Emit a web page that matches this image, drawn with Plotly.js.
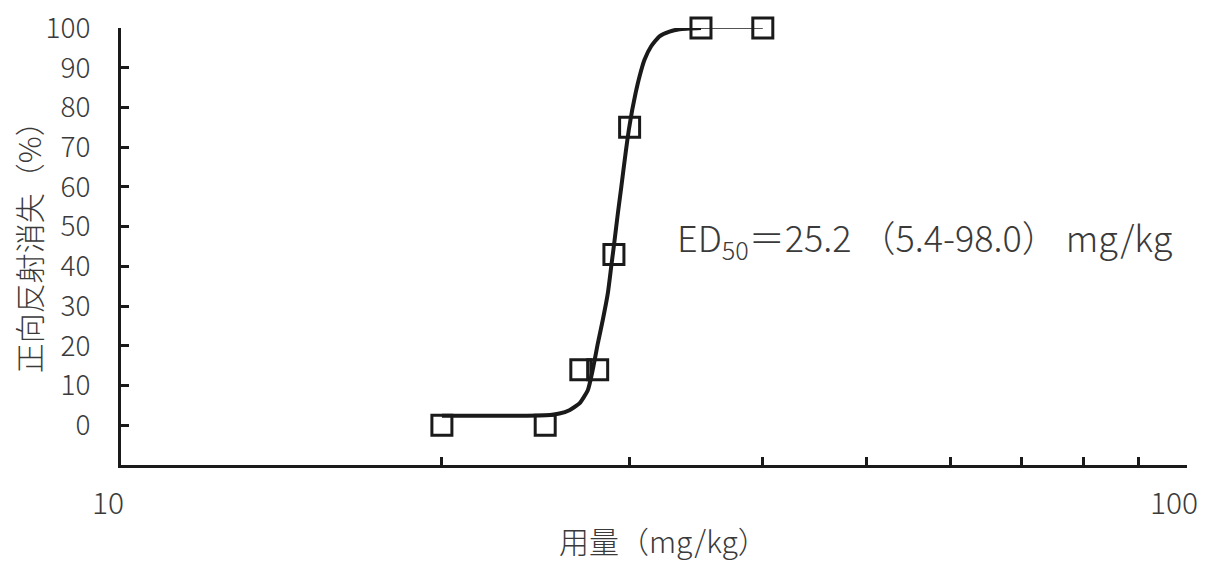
<!DOCTYPE html>
<html>
<head>
<meta charset="utf-8">
<script src="https://cdn.plot.ly/plotly-3.0.1.min.js"></script>
<style>html,body{margin:0;padding:0;background:#fff;}#chart{width:1225px;height:563px;}</style>
</head>
<body>
<div id="chart"></div>
<script>
// Observed data (dose mg/kg, % loss of righting reflex)
const dose = [20, 25, 27, 28, 29, 30, 35, 40];
const response = [0, 0, 14, 14, 43, 75, 100, 100];

// Fitted curve
const fitDose = [20, 22, 24, 25.05, 25.78, 26.34, 26.92, 27.41, 27.70, 28.01, 28.31, 28.62, 28.83, 29.04, 29.25, 29.47, 29.74, 29.95, 30.17, 30.39, 30.65, 30.98, 31.43, 32.00, 32.70, 33.42, 35];
const fitResp = [2.4, 2.4, 2.4, 2.5, 2.95, 3.8, 5.5, 8.8, 13.9, 20.6, 26.5, 33.2, 39.9, 46.5, 53.4, 60.1, 68.5, 74.4, 79.4, 83.6, 87.8, 92.0, 95.4, 97.9, 99.1, 99.7, 100];

const xTickVals = [10, 20, 30, 40, 50, 60, 70, 80, 90, 100];
const xTickText = ['10', '', '', '', '', '', '', '', '', '100'];
const yTickVals = [0, 10, 20, 30, 40, 50, 60, 70, 80, 90, 100];

const xTitle = '用量（mg/kg）';
const yTitle = '正向反射消失（%）';
const ed50Text = 'ED<sub>50</sub>＝25.2 （5.4-98.0） mg/kg';

const FONT = '"Noto Sans CJK JP", "Noto Sans", sans-serif';
const TXT = '#3a3a3a';

const traces = [
  {
    x: fitDose, y: fitResp, mode: 'lines', type: 'scatter',
    line: {color: '#1a1a1a', width: 4, shape: 'spline', smoothing: 0.5},
    hoverinfo: 'skip', showlegend: false, cliponaxis: false
  },
  {
    x: dose.slice(-2), y: response.slice(-2), mode: 'lines', type: 'scatter',
    line: {color: '#1a1a1a', width: 1.5},
    hoverinfo: 'skip', showlegend: false, cliponaxis: false
  },
  {
    x: dose, y: response, mode: 'markers', type: 'scatter',
    marker: {symbol: 'square-open', size: 20, color: '#1a1a1a', line: {width: 3, color: '#1a1a1a'}},
    showlegend: false, cliponaxis: false
  }
];

const layout = {
  width: 1225, height: 563,
  margin: {l: 121, r: 38, t: 28, b: 98},
  paper_bgcolor: '#fff', plot_bgcolor: '#fff',
  font: {family: FONT, size: 30, color: TXT, weight: 300},
  showlegend: false,
  xaxis: {
    type: 'log', range: [1, 2],
    tickmode: 'array', tickvals: xTickVals, ticktext: xTickText,
    ticks: 'inside', ticklen: 8, tickwidth: 3, tickcolor: '#1a1a1a',
    showline: true, linewidth: 3, linecolor: '#1a1a1a',
    showgrid: false, zeroline: false,
    ticklabelstandoff: 10, ticklabelshift: -13,
    tickfont: {family: FONT, size: 30, color: TXT, weight: 300}
  },
  yaxis: {
    range: [-10, 100],
    tickmode: 'array', tickvals: yTickVals,
    ticks: 'inside', ticklen: 8, tickwidth: 3, tickcolor: '#1a1a1a',
    showline: true, linewidth: 3, linecolor: '#1a1a1a',
    showgrid: false, zeroline: false,
    ticklabelstandoff: 22,
    tickfont: {family: FONT, size: 28, color: TXT, weight: 300}
  },
  annotations: [
    {
      text: ed50Text, xref: 'paper', yref: 'y', x: 0.52, y: 47,
      xanchor: 'left', yanchor: 'middle', showarrow: false,
      font: {family: FONT, size: 36, color: TXT, weight: 300}
    },
    {
      text: xTitle, xref: 'paper', yref: 'paper', x: 0.5085, y: -0.172,
      xanchor: 'center', yanchor: 'middle', showarrow: false,
      font: {family: FONT, size: 30, color: TXT, weight: 300}
    },
    {
      text: yTitle, xref: 'paper', yref: 'paper', x: -0.087, y: 0.515,
      xanchor: 'center', yanchor: 'middle', textangle: -90, showarrow: false,
      font: {family: FONT, size: 30, color: TXT, weight: 300}
    }
  ]
};

Plotly.newPlot('chart', traces, layout, {displayModeBar: false, staticPlot: true});
</script>
</body>
</html>
